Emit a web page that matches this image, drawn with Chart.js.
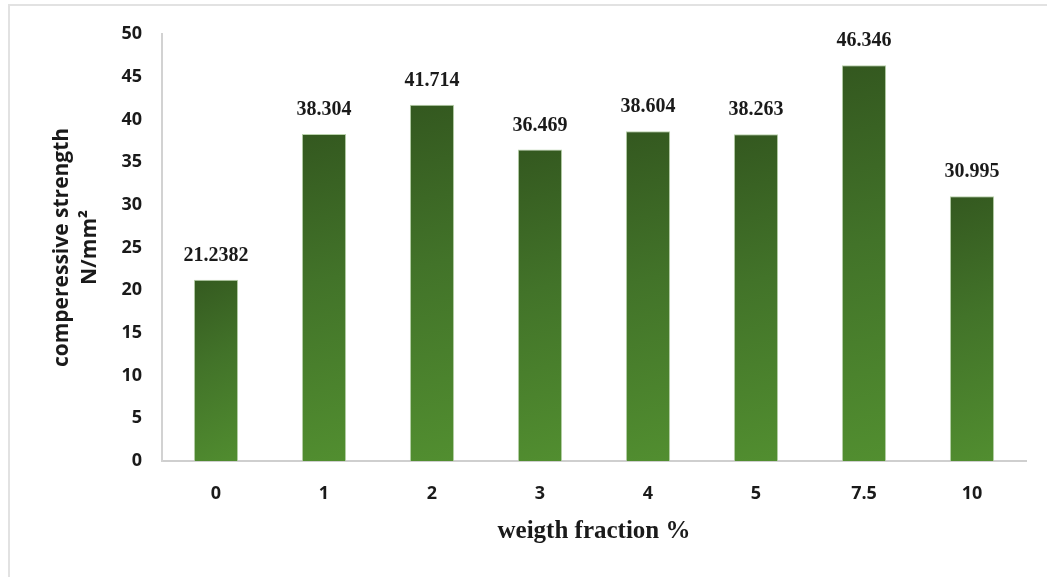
<!DOCTYPE html>
<html>
<head>
<meta charset="utf-8">
<script src="https://cdn.jsdelivr.net/npm/chart.js@4/dist/chart.umd.min.js"></script>
<style>
  html, body { margin: 0; padding: 0; background: #ffffff; }
  #wrap { position: relative; width: 1047px; height: 577px; overflow: hidden; }
  #frame { position: absolute; left: 8px; top: 4px; right: -4px; bottom: -4px;
           border-left: 2px solid #e2e2e2; border-top: 2px solid #e2e2e2; }
  canvas { position: absolute; left: 0; top: 0; }
</style>
</head>
<body>
<div id="wrap">
  <div id="frame"></div>
  <canvas id="chart" width="1047" height="577"></canvas>
</div>
<script>
// weight fraction (%) of filler and the measured compressive strength
const categories = ['0', '1', '2', '3', '4', '5', '7.5', '10'];
const strength = [21.2382, 38.304, 41.714, 36.469, 38.604, 38.263, 46.346, 30.995];
const yTicks = [0, 5, 10, 15, 20, 25, 30, 35, 40, 45, 50];

const SANS = '"Open Sans", "Liberation Sans", sans-serif';
const SERIF = '"Liberation Serif", "DejaVu Serif", serif';

// green bar fill, darker at the top-left and lighter toward the bottom-right
function barFill(ctx) {
  const chart = ctx.chart;
  if (!chart.chartArea || ctx.type !== 'data') return '#437a28';
  const xs = chart.scales.x, ys = chart.scales.y;
  const cx = xs.getPixelForValue(ctx.dataIndex);
  const half = 22;
  const top = ys.getPixelForValue(strength[ctx.dataIndex]);
  const bottom = ys.getPixelForValue(0);
  const g = chart.ctx.createLinearGradient(cx - half * 2, top, cx + half * 2, bottom);
  g.addColorStop(0, '#33571f');
  g.addColorStop(0.45, '#427329');
  g.addColorStop(1, '#528f30');
  return g;
}

// writes each bar's value above it
const valueLabels = {
  id: 'valueLabels',
  afterDatasetsDraw(chart) {
    const c = chart.ctx;
    const meta = chart.getDatasetMeta(0);
    c.save();
    c.font = 'bold 20px ' + SERIF;
    c.fillStyle = '#1a1a1a';
    c.textAlign = 'center';
    c.textBaseline = 'middle';
    meta.data.forEach((bar, i) => {
      c.fillText(String(strength[i]), bar.x, bar.y - 24);
    });
    c.restore();
  }
};

new Chart(document.getElementById('chart'), {
  type: 'bar',
  data: {
    labels: categories,
    datasets: [{
      data: strength,
      backgroundColor: barFill,
      borderColor: '#b9d2ab',
      borderWidth: 1,
      categoryPercentage: 1,
      barPercentage: 0.41
    }]
  },
  options: {
    responsive: false,
    animation: false,
    layout: { padding: { left: 48, right: 21, top: 34, bottom: 30 } },
    plugins: { legend: { display: false }, tooltip: { enabled: false } },
    scales: {
      x: {
        grid: { display: false, drawTicks: false },
        border: { display: true, color: '#cfcfcf', width: 2 },
        ticks: { color: '#1a1a1a', font: { family: SANS, size: 18, weight: 'bold' }, padding: 22 },
        title: {
          display: true, text: 'weigth fraction %', color: '#1a1a1a',
          font: { family: SERIF, size: 25, weight: 'bold' }, padding: { top: 3, bottom: 0 }
        },
        afterFit(scale) { scale.height = 577 - 461 - 30; }
      },
      y: {
        min: 0, max: 50,
        afterBuildTicks(scale) { scale.ticks = yTicks.map(v => ({ value: v })); },
        grid: { display: false, drawTicks: false },
        border: { display: true, color: '#d2d2d2', width: 2 },
        ticks: { color: '#1a1a1a', font: { family: SANS, size: 18, weight: 'bold' }, padding: 20 },
        title: {
          display: true, text: ['comperessive strength', 'N/mm²'], color: '#1a1a1a',
          font: { family: SANS, size: 21, weight: 'bold', lineHeight: 1.33 }, padding: 0
        },
        afterFit(scale) { scale.width = 162 - 48; }
      }
    }
  },
  plugins: [valueLabels]
});
</script>
</body>
</html>
